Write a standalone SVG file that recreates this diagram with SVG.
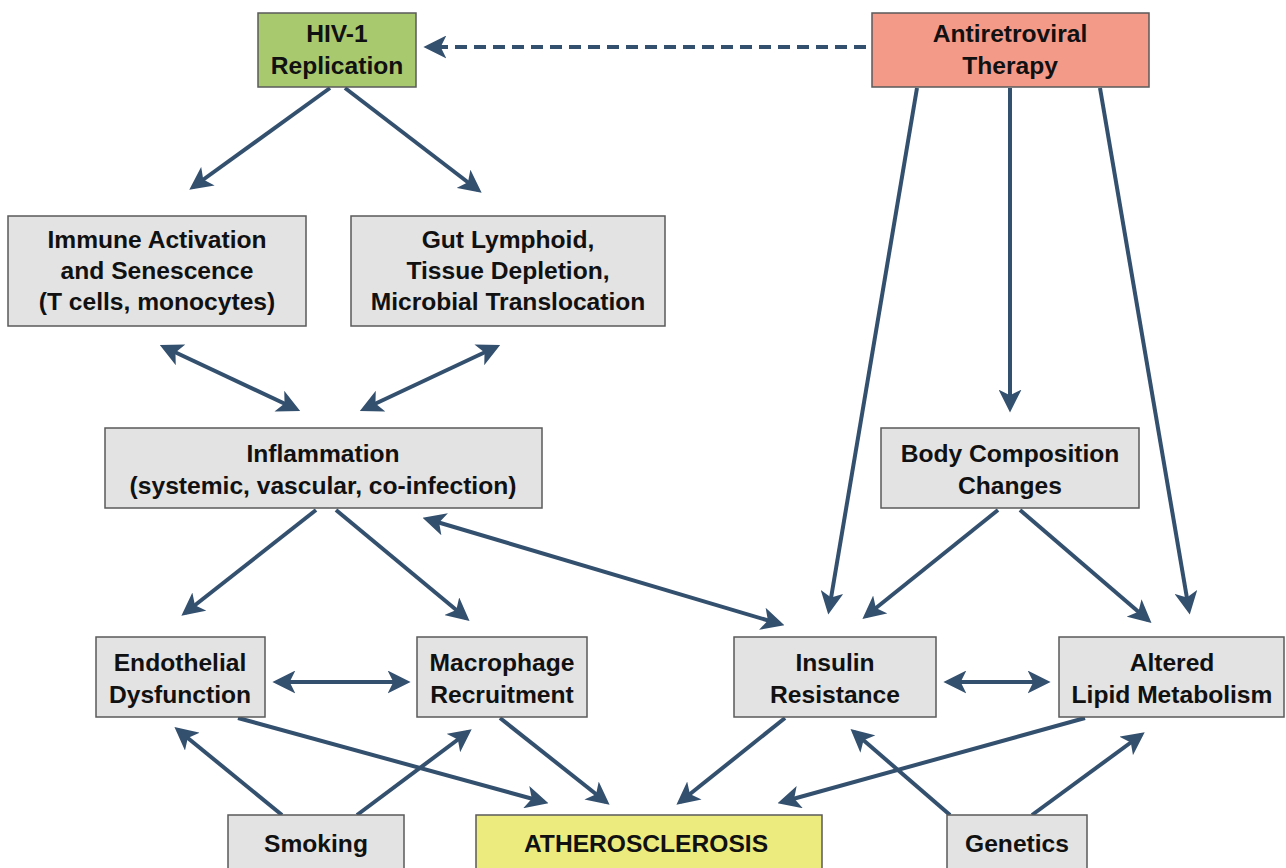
<svg xmlns="http://www.w3.org/2000/svg" width="1286" height="868" viewBox="0 0 1286 868">
<style>
.box{stroke:#5a5a5a;stroke-width:1.5}
.g{fill:#e3e3e3}
.t{font-family:"Liberation Sans",Arial,sans-serif;font-weight:bold;font-size:24.6px;fill:#111;text-anchor:middle}
.c{stroke:#34506f;stroke-width:4;fill:none}
</style>
<defs>
<marker id="ah" viewBox="0 0 20 20" refX="16" refY="10" markerWidth="23" markerHeight="23" markerUnits="userSpaceOnUse" orient="auto-start-reverse">
<path d="M0,0 L20,10 L0,20 L5,10 z" fill="#34506f"/>
</marker>
</defs>
<rect width="1286" height="868" fill="#fff"/>
<g id="connectors">
<line class="c" x1="866" y1="47" x2="428" y2="47" stroke-dasharray="12,7" marker-end="url(#ah)"/>
<line class="c" x1="330" y1="88" x2="193" y2="187" marker-end="url(#ah)"/>
<line class="c" x1="345" y1="88" x2="478" y2="190" marker-end="url(#ah)"/>
<line class="c" x1="164" y1="347" x2="296" y2="409" marker-start="url(#ah)" marker-end="url(#ah)"/>
<line class="c" x1="496" y1="347" x2="364" y2="409" marker-start="url(#ah)" marker-end="url(#ah)"/>
<line class="c" x1="316" y1="510" x2="185" y2="613" marker-end="url(#ah)"/>
<line class="c" x1="336" y1="510" x2="466" y2="618" marker-end="url(#ah)"/>
<line class="c" x1="427" y1="519" x2="780" y2="624" marker-start="url(#ah)" marker-end="url(#ah)"/>
<line class="c" x1="917" y1="88" x2="829" y2="610" marker-end="url(#ah)"/>
<line class="c" x1="1010" y1="88" x2="1010" y2="408" marker-end="url(#ah)"/>
<line class="c" x1="1100" y1="88" x2="1189" y2="610" marker-end="url(#ah)"/>
<line class="c" x1="998" y1="510" x2="866" y2="616" marker-end="url(#ah)"/>
<line class="c" x1="1020" y1="510" x2="1148" y2="620" marker-end="url(#ah)"/>
<line class="c" x1="277" y1="682" x2="406" y2="682" marker-start="url(#ah)" marker-end="url(#ah)"/>
<line class="c" x1="948" y1="682" x2="1046" y2="682" marker-start="url(#ah)" marker-end="url(#ah)"/>
<line class="c" x1="238" y1="718" x2="544" y2="802" marker-end="url(#ah)"/>
<line class="c" x1="500" y1="718" x2="606" y2="802" marker-end="url(#ah)"/>
<line class="c" x1="785" y1="718" x2="680" y2="802" marker-end="url(#ah)"/>
<line class="c" x1="1085" y1="718" x2="782" y2="802" marker-end="url(#ah)"/>
<line class="c" x1="282" y1="815" x2="178" y2="730" marker-end="url(#ah)"/>
<line class="c" x1="357" y1="815" x2="468" y2="732" marker-end="url(#ah)"/>
<line class="c" x1="950" y1="815" x2="854" y2="732" marker-end="url(#ah)"/>
<line class="c" x1="1032" y1="815" x2="1141" y2="735" marker-end="url(#ah)"/>
</g>
<g id="hiv"><rect class="box" x="258" y="13" width="158" height="74" fill="#a9c96f"/><text class="t" x="337" y="42">HIV-1</text><text class="t" x="337" y="74">Replication</text></g>
<g id="art"><rect class="box" x="872" y="13" width="277" height="74" fill="#f49a89"/><text class="t" x="1010" y="42">Antiretroviral</text><text class="t" x="1010" y="74">Therapy</text></g>
<g id="immune"><rect class="box g" x="8" y="216" width="298" height="110"/><text class="t" x="157" y="248">Immune Activation</text><text class="t" x="157" y="279">and Senescence</text><text class="t" x="157" y="310">(T cells, monocytes)</text></g>
<g id="gut"><rect class="box g" x="351" y="216" width="314" height="110"/><text class="t" x="508" y="248">Gut Lymphoid,</text><text class="t" x="508" y="279">Tissue Depletion,</text><text class="t" x="508" y="310">Microbial Translocation</text></g>
<g id="inflammation"><rect class="box g" x="105" y="428" width="437" height="80"/><text class="t" x="323" y="462">Inflammation</text><text class="t" x="323" y="494">(systemic, vascular, co-infection)</text></g>
<g id="body"><rect class="box g" x="881" y="428" width="258" height="80"/><text class="t" x="1010" y="462">Body Composition</text><text class="t" x="1010" y="494">Changes</text></g>
<g id="endothelial"><rect class="box g" x="96" y="637" width="169" height="80"/><text class="t" x="180" y="671">Endothelial</text><text class="t" x="180" y="703">Dysfunction</text></g>
<g id="macrophage"><rect class="box g" x="417" y="637" width="170" height="80"/><text class="t" x="502" y="671">Macrophage</text><text class="t" x="502" y="703">Recruitment</text></g>
<g id="insulin"><rect class="box g" x="734" y="637" width="202" height="80"/><text class="t" x="835" y="671">Insulin</text><text class="t" x="835" y="703">Resistance</text></g>
<g id="lipid"><rect class="box g" x="1059" y="637" width="225" height="80"/><text class="t" x="1172" y="671">Altered</text><text class="t" x="1172" y="703">Lipid Metabolism</text></g>
<g id="smoking"><rect class="box g" x="228" y="815" width="176" height="60"/><text class="t" x="316" y="852">Smoking</text></g>
<g id="athero"><rect class="box" x="476" y="815" width="346" height="60" fill="#ecec7e"/><text class="t" x="646" y="852">ATHEROSCLEROSIS</text></g>
<g id="genetics"><rect class="box g" x="947" y="815" width="140" height="60"/><text class="t" x="1017" y="852">Genetics</text></g>
</svg>
